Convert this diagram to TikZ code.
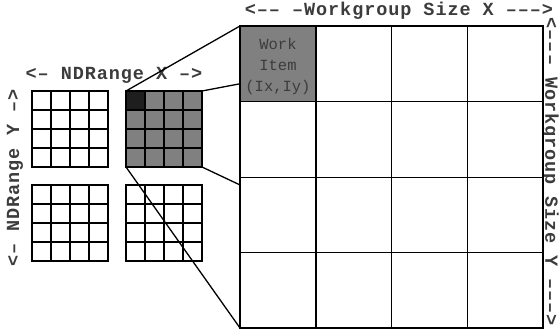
\documentclass[tikz,border=0pt]{standalone}
\usepackage{fontspec}
\usetikzlibrary{fit}
\newfontfamily\lblfont[LetterSpace=5]{Liberation Mono}
\newfontfamily\monofont{Liberation Mono}
\definecolor{cellgray}{HTML}{808080}
\definecolor{darkcell}{HTML}{1E1E1E}
\definecolor{txtgray}{HTML}{3C3C3C}
\begin{document}
\begin{tikzpicture}[x=1pt,y=-1pt,
  smallgrid/.style={draw, line width=1.6pt, minimum width=76pt, minimum height=76pt, inner sep=0pt, outer sep=0pt},
  gline/.style={line width=1.5pt},
  conn/.style={line width=1.3pt},
  lbl/.style={text=txtgray, font=\lblfont\bfseries\fontsize{18.5}{19}\selectfont, inner sep=0pt}]
\useasboundingbox (0,0) rectangle (560,332);

% labels
\node[lbl] (nx) at (114,75) {<– NDRange X –>};
\node[lbl, rotate=90] (ny) at (15,178) {<– NDRange Y –>};
\node[lbl] (wx) at (399,11) {<–– –Workgroup Size X –––>};
\node[lbl, rotate=-90] (wy) at (550,172) {<––– Workgroup Size Y –––>};

% small grids
\node[smallgrid, fill=white] (g1) at (70,129) {};
\node[smallgrid, fill=cellgray] (g2) at (164,129) {};
\node[smallgrid, fill=white] (g3) at (70,223) {};
\node[smallgrid, fill=white] (g4) at (164,223) {};
\fill[darkcell] (g2.north west) rectangle ++(19,19);
\foreach \g in {g1,g2,g3,g4}{
  \foreach \i in {1,2,3}{
    \draw[gline] (\g.north west) ++(19*\i,0) -- ++(0,76);
    \draw[gline] (\g.north west) ++(0,19*\i) -- ++(76,0);
  }
  \draw[line width=1.6pt] (\g.north west) rectangle (\g.south east);
}

% corners of the big grid
\coordinate (bnw) at (240,26);
\coordinate (bne) at (543,26);
\coordinate (bsw) at (240,328);
\coordinate (bse) at (543,328);

% connectors
\draw[conn] (g2.north west) -- (bnw);
\draw[conn] (g2.north east) -- (bne);
\draw[conn] (g2.south west) -- (bsw);
\draw[conn] (g2.south east) -- (bse);

% big grid
\node[draw, line width=1.6pt, fill=white, inner sep=0pt, outer sep=0pt, fit={(bnw)(bse)}] (big) {};
\fill[cellgray] (bnw) rectangle ++(75.75,75.5);
\foreach \i in {1,2,3}{
  \draw[gline] (bnw) ++(75.75*\i,0) -- ++(0,302);
}
\draw[gline] (bnw) ++(0,75.5) -- ++(303,0);
\draw[line width=1pt] (bnw) ++(0,151) -- ++(303,0);
\draw[gline] (bnw) ++(0,226.5) -- ++(303,0);
\draw[line width=1.6pt] (bnw) rectangle (bse);

\node[align=center, text=txtgray, font=\monofont\fontsize{15.5}{21}\selectfont, inner sep=0pt] (wi) at (278,66) {Work\\Item\\(Ix,Iy)};
\end{tikzpicture}
\end{document}
